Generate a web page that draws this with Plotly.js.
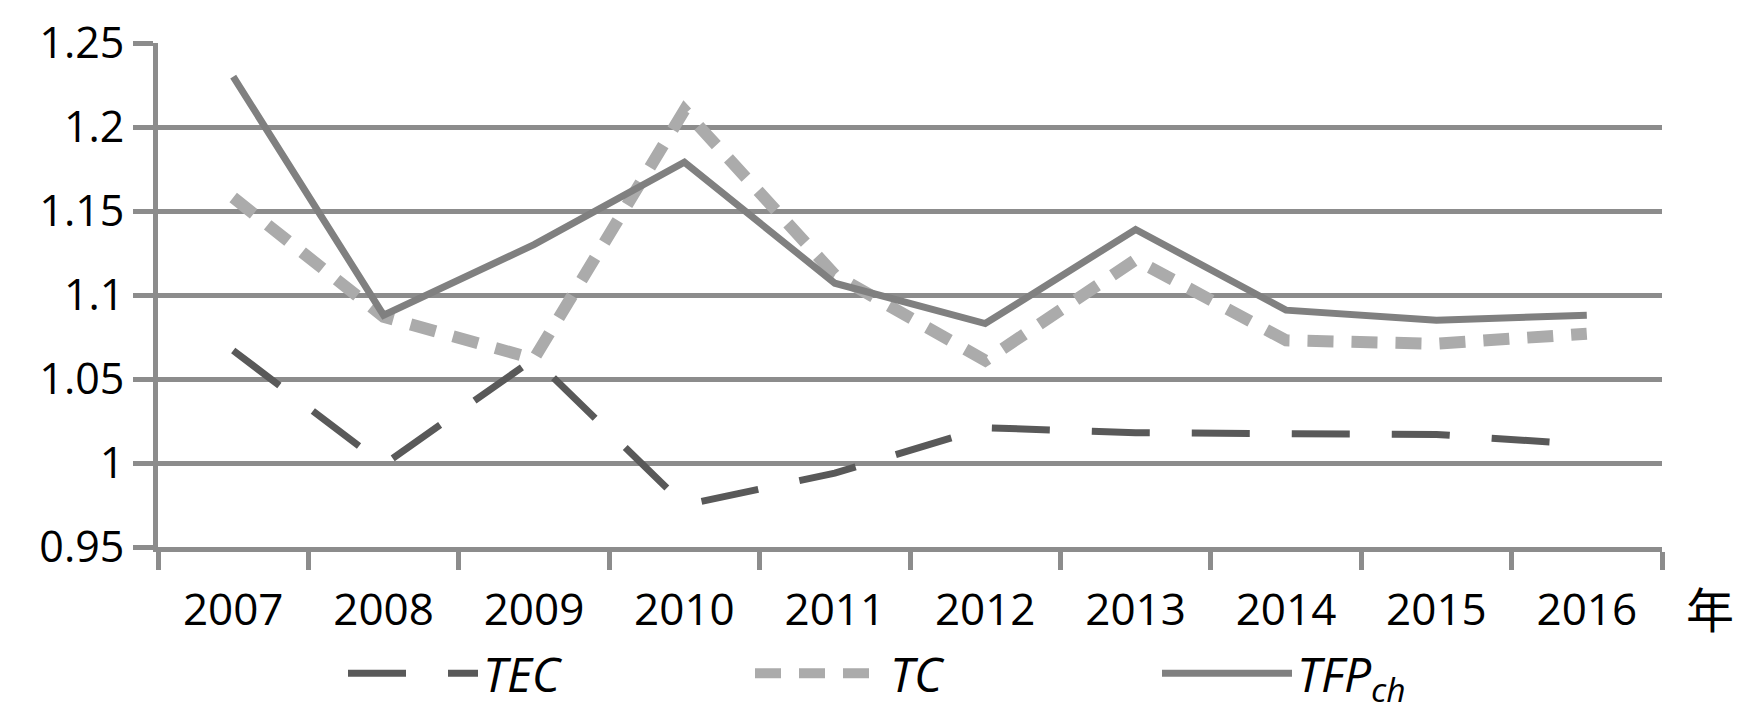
<!DOCTYPE html>
<html>
<head>
<meta charset="utf-8">
<script src="https://cdn.plot.ly/plotly-3.0.1.min.js"></script>
<style>
  html, body { margin: 0; padding: 0; background: #fff; }
  #chart { width: 1750px; height: 718px; }
</style>
</head>
<body>
<div id="chart"></div>
<script>
// values
const years = ['2007', '2008', '2009', '2010', '2011', '2012', '2013', '2014', '2015', '2016'];
const tec = [1.067, 0.999, 1.062, 0.975, 0.994, 1.021, 1.018, 1.018, 1.017, 1.011];
const tc = [1.158, 1.087, 1.062, 1.210, 1.112, 1.061, 1.121, 1.073, 1.071, 1.077];
const tfp = [1.230, 1.088, 1.130, 1.179, 1.107, 1.083, 1.139, 1.091, 1.085, 1.088];
const yTicks = [0.95, 1, 1.05, 1.1, 1.15, 1.2, 1.25];

const gridCol = '#8c8c8c';
const txtFont = 'Open Sans, Liberation Sans, sans-serif';

const traceTEC = {
    x: years, y: tec,
    type: 'scatter', mode: 'lines',
    name: '<i>TEC</i>',
    line: { color: '#595959', width: 7, dash: '58px,42px' }
};

const traceTC = {
    x: years, y: tc,
    type: 'scatter', mode: 'lines',
    name: '<i>TC</i>',
    line: { color: '#ababab', width: 12, dash: '26px,18px' }
};

const traceTFP = {
    x: years, y: tfp,
    type: 'scatter', mode: 'lines',
    name: '<i>TFP<sub>ch</sub></i>',
    line: { color: '#808080', width: 7 }
};

const layout = {
    width: 1750,
    height: 718,
    margin: { l: 158, r: 88, t: 43, b: 171 },
    paper_bgcolor: '#fff',
    plot_bgcolor: '#fff',
    showlegend: true,
    font: { family: txtFont, color: '#000', size: 44 },
    xaxis: {
        type: 'category',
        range: [-0.5, 9.5],
        tickson: 'boundaries',
        ticks: 'outside',
        ticklen: 18,
        tickwidth: 5,
        tickcolor: gridCol,
        ticklabelstandoff: 20,
        showline: true,
        linecolor: gridCol,
        linewidth: 5,
        showgrid: false,
        tickfont: { size: 44 },
        fixedrange: true
    },
    yaxis: {
        range: [0.95, 1.25],
        tickvals: yTicks,
        ticktext: yTicks.map(String),
        ticks: 'outside',
        ticklen: 20,
        tickwidth: 5,
        tickcolor: gridCol,
        showline: true,
        linecolor: gridCol,
        linewidth: 5,
        showgrid: true,
        gridcolor: gridCol,
        gridwidth: 5,
        zeroline: false,
        tickfont: { size: 43 },
        fixedrange: true
    },
    legend: {
        orientation: 'h',
        xref: 'container',
        yref: 'container',
        x: 0.196,
        xanchor: 'left',
        y: 0.115,
        yanchor: 'top',
        itemwidth: 130,
        entrywidth: 262,
        font: { size: 48, family: txtFont },
        bgcolor: 'rgba(0,0,0,0)'
    },
    annotations: [{
        text: '年',
        xref: 'paper', yref: 'paper',
        x: 1.032, y: -0.119,
        xanchor: 'center', yanchor: 'middle',
        showarrow: false,
        font: { family: 'Noto Sans CJK SC', size: 48, color: '#000' }
    }]
};

Plotly.newPlot('chart', [traceTEC, traceTC, traceTFP], layout, { staticPlot: true });
</script>
</body>
</html>
